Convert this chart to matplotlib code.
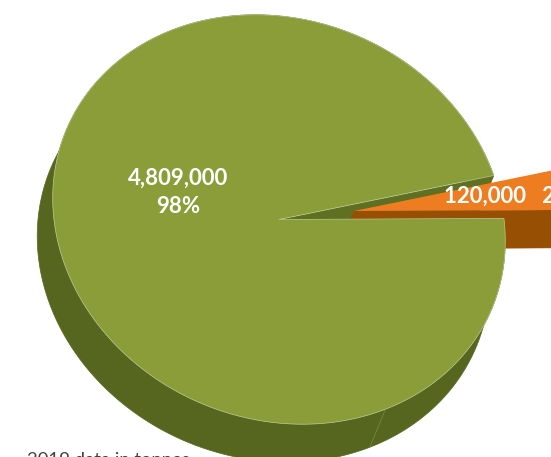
import numpy as np
import matplotlib
matplotlib.use('Agg')
import matplotlib.pyplot as plt
from matplotlib.patches import Polygon

# Tonnes per slice
labels = ['main', 'other']
valores = [4809000, 120000]
nota = '2019 data in tonnes'

VERDE = '#8a9d39'
VERDE_OSCURO = '#56661f'
NARANJA = '#ee7d21'
MARRON = '#974f04'

# Geometria de la tarta 3D (ejes en pixeles, y hacia abajo)
centro = np.array([279.0, 219.5])
matriz = np.array([[226.0, 11.2], [11.2, 204.4]])
grosor = np.array([-15.5, 38.0])
separacion = np.array([75.0, -8.5])
eje_vista = np.radians(-9.5)
estiramiento = 1.38


def vista(theta):
    # La perspectiva abre los angulos del lado cercano al espectador
    d = np.asarray(theta) - eje_vista
    return eje_vista + 2 * np.arctan(estiramiento * np.tan(d / 2))


def borde(theta):
    t = vista(theta)
    return (matriz @ np.array([np.cos(t), np.sin(t)])).T


fig = plt.figure(figsize=(5.51, 4.57), dpi=100)
ax = fig.add_axes([0, 0, 1, 1])
ax.set_xlim(0, 551)
ax.set_ylim(457, 0)
ax.axis('off')

# Angulos de cada porcion a partir de los valores
total = sum(valores)
barrido = np.radians(360 * valores[1] / total)
t_ini = eje_vista - barrido / 2
t_fin = eje_vista + barrido / 2
thetas_verde = np.linspace(t_fin, t_ini + 2 * np.pi, 1500)
thetas_naranja = np.linspace(t_ini, t_fin, 60)

# vista() no esta definida justo en el lado opuesto, se evita ese punto
thetas_verde = thetas_verde[np.abs(thetas_verde - eje_vista - np.pi) > 1e-9]

rim_verde = borde(thetas_verde) + centro
rim_naranja = borde(thetas_naranja) + centro + separacion
centro_n = centro + separacion

# Pared exterior de la porcion grande
ax.add_patch(Polygon(np.vstack([rim_verde, (rim_verde + grosor)[::-1]]),
                     closed=True, fc=VERDE_OSCURO, ec=VERDE_OSCURO, lw=0.5, zorder=1))

# Pared interior visible en el hueco
fin_verde = rim_verde[-1]
ax.add_patch(Polygon([centro, fin_verde, fin_verde + grosor, centro + grosor],
                     closed=True, fc='#5f7023', ec='none', zorder=2))

# Costura de la pared exterior
seam = np.radians(64.8)
p = matriz @ np.array([np.cos(seam), np.sin(seam)]) + centro
ax.plot([p[0], p[0] + grosor[0]], [p[1], p[1] + grosor[1]], color='#7d8c45', lw=0.5, zorder=2)

# Porcion separada
borde_bajo = rim_naranja[-1]
ax.add_patch(Polygon([centro_n, borde_bajo, borde_bajo + grosor, centro_n + grosor],
                     closed=True, fc=MARRON, ec=MARRON, lw=0.4, zorder=3))
ax.add_patch(Polygon(np.vstack([centro_n, rim_naranja]), closed=True,
                     fc=NARANJA, ec='none', zorder=4))

# Cara superior de la porcion grande
ax.add_patch(Polygon(np.vstack([centro, rim_verde]), closed=True,
                     fc=VERDE, ec='#bcc791', lw=0.5, zorder=5))

pct = [round(100 * v / total) for v in valores]
fuente = dict(family='Lato', weight='bold', color='white', fontsize=16, zorder=6)
ax.text(178, 192.5, f'{valores[0]:,}\n{pct[0]}%', ha='center', va='center',
        linespacing=1.4, **fuente)
ax.text(444, 196, f'{valores[1]:,}   {pct[1]}%', ha='left', va='center', **fuente)

ax.text(27, 465, nota, family='Lato', fontsize=13.3, color='#404040', ha='left', va='baseline')

fig.savefig('out.png', dpi=100)
